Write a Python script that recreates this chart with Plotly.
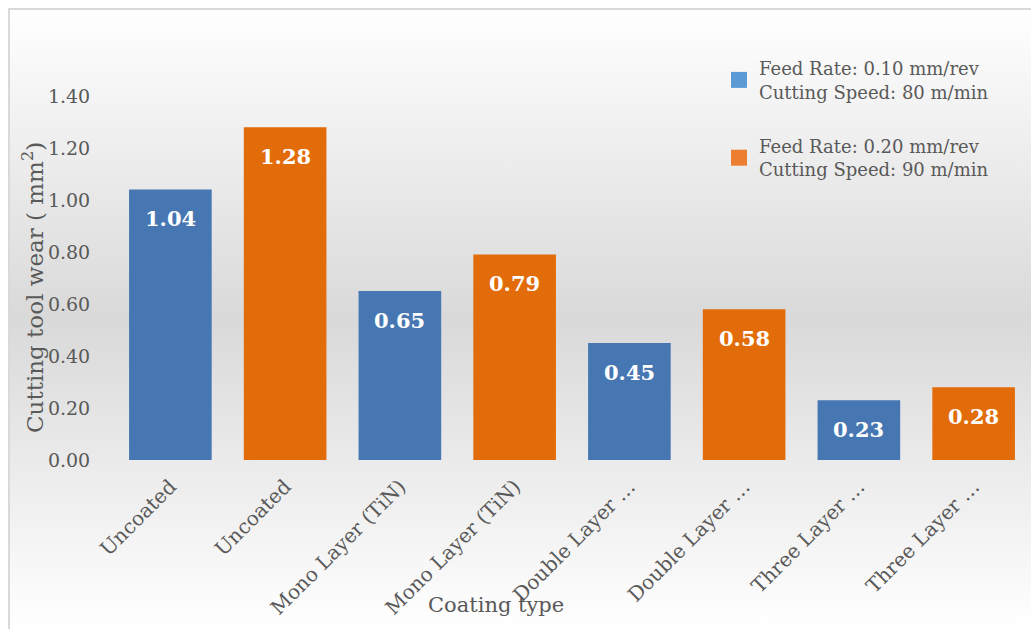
import base64
import plotly.graph_objects as go

# ---- data ----
tick_labels = ["Uncoated", "Uncoated", "Mono Layer (TiN)", "Mono Layer (TiN)",
               "Double Layer …", "Double Layer …", "Three Layer …", "Three Layer …"]
series_a_name = "Feed Rate: 0.10 mm/rev<br>Cutting Speed: 80 m/min"
series_b_name = "Feed Rate: 0.20 mm/rev<br>Cutting Speed: 90 m/min"
series_a_values = [1.04, 0.65, 0.45, 0.23]
series_b_values = [1.28, 0.79, 0.58, 0.28]
y_ticks = [0.0, 0.2, 0.4, 0.6, 0.8, 1.0, 1.2, 1.4]

positions = list(range(len(tick_labels)))
pos_a = positions[0::2]
pos_b = positions[1::2]

FONT = "DejaVu Serif"
TXT = "#595959"
BLUE_BAR = "#4677b3"
ORANGE_BAR = "#e36c0a"
BLUE_LEG = "#5b9bd5"
ORANGE_LEG = "#ed7d31"

W, H = 1031, 629
ML, MR, MT, MB = 113, 0, 96, 169
PW, PH = W - ML - MR, H - MT - MB

def px_x(px):
    return (px - ML) / PW

def px_y(py):
    return (H - MB - py) / PH

fig = go.Figure()

fig.add_trace(go.Bar(x=pos_a, y=series_a_values, width=0.72,
                     marker=dict(color=BLUE_BAR, line=dict(width=0)),
                     showlegend=False, hoverinfo="y"))
fig.add_trace(go.Bar(x=pos_b, y=series_b_values, width=0.72,
                     marker=dict(color=ORANGE_BAR, line=dict(width=0)),
                     showlegend=False, hoverinfo="y"))

# legend entries
fig.add_trace(go.Scatter(x=[None], y=[None], mode="markers", name=series_a_name,
                         legendgroup="a",
                         marker=dict(symbol="square", size=16, color=BLUE_LEG)))
fig.add_trace(go.Scatter(x=[None], y=[None], mode="markers", name=series_b_name,
                         legendgroup="b",
                         marker=dict(symbol="square", size=16, color=ORANGE_LEG)))

annotations = []
for xs, vs in ((pos_a, series_a_values), (pos_b, series_b_values)):
    for x, v in zip(xs, vs):
        annotations.append(dict(x=x, y=v, xref="x", yref="y", text=f"<b>{v:.2f}</b>",
                                showarrow=False, yshift=-29,
                                font=dict(family=FONT, size=21, color="white")))

annotations.append(dict(x=px_x(33), y=px_y(288), xref="paper", yref="paper",
                        xanchor="center", yanchor="middle",
                        text="Cutting tool wear ( mm<sup>2</sup>)", textangle=-90,
                        showarrow=False, font=dict(family=FONT, size=23, color=TXT)))
annotations.append(dict(x=px_x(496), y=px_y(605), xref="paper", yref="paper",
                        xanchor="center", yanchor="middle",
                        text="Coating type", showarrow=False,
                        font=dict(family=FONT, size=21, color=TXT)))

svg = ('<svg xmlns="http://www.w3.org/2000/svg" width="100" height="100" preserveAspectRatio="none">'
       '<defs><linearGradient id="g" x1="0" y1="0" x2="0" y2="1">'
       '<stop offset="0" stop-color="#ffffff"/>'
       '<stop offset="0.5" stop-color="#d9d9d9"/>'
       '<stop offset="1" stop-color="#ffffff"/>'
       '</linearGradient></defs>'
       '<rect width="100" height="100" fill="url(#g)"/></svg>')
src = "data:image/svg+xml;base64," + base64.b64encode(svg.encode()).decode()

fig.update_layout(
    width=W, height=H,
    margin=dict(l=ML, r=MR, t=MT, b=MB, pad=0),
    paper_bgcolor="white",
    plot_bgcolor="rgba(0,0,0,0)",
    barmode="overlay",
    font=dict(family=FONT, color=TXT),
    showlegend=True,
    legend=dict(x=px_x(719), y=px_y(50), xanchor="left", yanchor="top",
                bgcolor="rgba(0,0,0,0)", font=dict(family=FONT, size=18, color=TXT),
                itemsizing="trace", tracegroupgap=28, traceorder="grouped"),
    xaxis=dict(range=[-0.5, len(tick_labels) - 0.5], tickmode="array",
               tickvals=positions, ticktext=tick_labels, tickangle=-45,
               showgrid=False, zeroline=False, showline=False,
               ticks="outside", ticklen=6, tickcolor="rgba(0,0,0,0)",
               tickfont=dict(family=FONT, size=20, color=TXT)),
    yaxis=dict(range=[0, 1.4], tickmode="array", tickvals=y_ticks,
               ticktext=[f"{t:.2f}" for t in y_ticks],
               showgrid=False, zeroline=False, showline=False,
               ticks="outside", ticklen=18, tickcolor="rgba(0,0,0,0)",
               tickfont=dict(family=FONT, size=19, color=TXT)),
    annotations=annotations,
    images=[dict(source=src, xref="paper", yref="paper",
                 x=px_x(9), y=px_y(9), sizex=(W - 9) / PW, sizey=(H - 9) / PH,
                 xanchor="left", yanchor="top", sizing="stretch", layer="below")],
    shapes=[dict(type="rect", xref="paper", yref="paper",
                 x0=px_x(9), x1=px_x(W + 5), y0=px_y(H + 5), y1=px_y(9),
                 line=dict(color="#d9d9d9", width=2), fillcolor="rgba(0,0,0,0)",
                 layer="above")],
)

fig.write_html("out.html")
